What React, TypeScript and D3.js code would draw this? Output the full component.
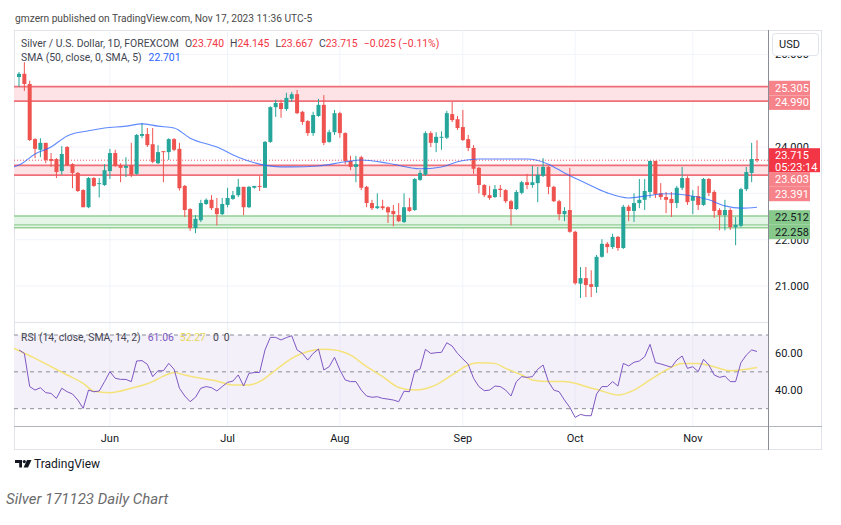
import React from "react";
import * as d3 from "d3";

// daily candles, 9 May 2023 .. 17 Nov 2023 (weekdays)
const opens = [
  25.51, 25.58, 25.36, 24.17, 23.94, 24.09, 23.74, 23.74, 23.48, 24.0,
  23.63, 23.44, 23.07, 22.7, 23.33, 23.2, 23.18, 23.48, 23.87, 23.61,
  23.55, 23.61, 23.42, 24.24, 24.28, 24.06, 23.65, 23.91, 23.89, 24.17,
  23.96, 23.16, 22.66, 22.25, 22.42, 22.77, 22.86, 22.68, 22.55, 22.75,
  22.88, 22.96, 23.14, 22.7, 23.12, 23.16, 23.12, 24.11, 24.86, 24.95,
  24.82, 25.04, 25.14, 24.76, 24.56, 24.3, 24.67, 24.91, 24.11, 24.32,
  24.73, 24.3, 23.7, 23.57, 23.78, 23.14, 22.79, 22.68, 22.72, 22.7,
  22.62, 22.53, 22.38, 22.7, 22.64, 23.29, 23.4, 24.3, 24.09, 24.2,
  24.2, 24.71, 24.6, 24.43, 24.17, 23.98, 23.55, 23.18, 22.96, 22.92,
  23.1, 23.07, 22.83, 22.66, 23.01, 23.24, 23.18, 23.22, 23.38, 23.57,
  23.14, 22.83, 22.55, 22.64, 22.17, 21.05, 21.17, 21.04, 20.98, 21.63,
  21.91, 21.84, 22.06, 21.82, 22.71, 22.62, 22.79, 22.86, 23.03, 23.7,
  23.0, 22.92, 22.88, 22.79, 23.12, 23.33, 22.84, 22.94, 22.75, 23.31,
  23.03, 22.64, 22.53, 22.64, 22.27, 22.3, 23.09, 23.44, 23.74,
];
const highs = [
  25.62, 25.83, 25.43, 24.19, 24.19, 24.09, 23.87, 23.76, 24.02, 24.02,
  23.65, 23.46, 23.09, 23.35, 23.35, 23.33, 23.63, 23.96, 23.94, 23.65,
  23.78, 24.09, 24.28, 24.52, 24.41, 24.41, 24.04, 23.91, 24.19, 24.19,
  24.09, 23.18, 22.68, 22.53, 22.86, 22.89, 22.96, 22.9, 22.9, 23.12,
  23.05, 23.31, 23.14, 23.16, 23.16, 23.37, 24.13, 24.88, 25.02, 25.02,
  25.17, 25.19, 25.23, 24.78, 24.58, 24.76, 25.04, 25.12, 24.37, 24.8,
  24.76, 24.32, 23.81, 23.81, 23.81, 23.16, 22.86, 23.0, 22.86, 22.72,
  22.75, 22.79, 23.0, 22.9, 23.33, 23.5, 24.34, 24.34, 24.32, 24.34,
  24.78, 24.97, 24.67, 24.8, 24.26, 24.04, 23.57, 23.2, 23.16, 23.18,
  23.18, 23.09, 22.86, 23.07, 23.27, 23.42, 23.59, 23.57, 23.76, 23.59,
  23.16, 22.86, 22.7, 23.55, 22.19, 21.41, 21.41, 21.34, 21.67, 22.01,
  21.95, 22.13, 22.08, 22.75, 22.75, 23.0, 23.31, 23.31, 23.7, 23.7,
  23.22, 23.03, 23.03, 23.16, 23.57, 23.37, 23.07, 23.16, 23.33, 23.33,
  23.07, 22.68, 22.86, 22.68, 22.49, 23.12, 23.57, 24.09, 24.145,
];
const lows = [
  25.3, 25.21, 24.13, 23.76, 23.78, 23.65, 23.57, 23.33, 23.4, 23.59,
  23.11, 23.03, 22.7, 22.68, 23.14, 22.91, 23.16, 23.31, 23.57, 23.24,
  23.35, 23.35, 23.4, 24.19, 24.0, 23.65, 23.63, 23.24, 23.72, 23.91,
  23.06, 22.49, 22.19, 22.14, 22.38, 22.75, 22.64, 22.31, 22.53, 22.7,
  22.86, 22.92, 22.53, 22.68, 23.1, 23.05, 23.12, 24.09, 24.65, 24.63,
  24.78, 24.98, 24.71, 24.48, 24.24, 24.24, 24.65, 24.04, 24.09, 24.26,
  24.2, 23.63, 23.5, 23.24, 23.07, 22.7, 22.64, 22.66, 22.64, 22.36,
  22.29, 22.38, 22.36, 22.6, 22.62, 23.27, 23.38, 24.0, 23.89, 23.94,
  24.17, 24.54, 24.37, 24.13, 23.91, 23.42, 23.0, 22.92, 22.86, 22.9,
  22.92, 22.79, 22.31, 22.64, 22.98, 23.09, 23.12, 22.81, 23.35, 22.98,
  22.81, 22.42, 22.4, 22.15, 21.03, 20.74, 20.76, 20.76, 20.85, 21.61,
  21.71, 21.8, 21.76, 21.8, 22.4, 22.38, 22.68, 22.64, 22.9, 22.9,
  22.86, 22.57, 22.49, 22.68, 23.07, 22.75, 22.55, 22.64, 22.73, 22.94,
  22.47, 22.2, 22.2, 22.21, 21.88, 22.27, 23.05, 23.24, 23.667,
];
const closes = [
  25.58, 25.36, 24.15, 23.96, 24.09, 23.72, 23.7, 23.46, 23.85, 23.61,
  23.44, 23.05, 22.7, 23.33, 23.16, 23.22, 23.5, 23.87, 23.59, 23.55,
  23.59, 23.4, 24.26, 24.28, 24.04, 23.68, 23.89, 23.89, 24.17, 23.94,
  23.11, 22.64, 22.25, 22.45, 22.79, 22.86, 22.68, 22.55, 22.77, 22.9,
  22.96, 23.14, 22.7, 23.14, 23.16, 23.14, 24.11, 24.86, 24.95, 24.82,
  25.06, 25.14, 24.73, 24.54, 24.3, 24.69, 24.91, 24.09, 24.32, 24.73,
  24.3, 23.7, 23.57, 23.63, 23.12, 22.79, 22.68, 22.72, 22.68, 22.59,
  22.55, 22.4, 22.7, 22.62, 23.31, 23.44, 24.3, 24.09, 24.22, 24.22,
  24.73, 24.58, 24.41, 24.15, 23.98, 23.53, 23.18, 22.96, 22.9, 23.09,
  23.07, 22.83, 22.66, 23.03, 23.24, 23.18, 23.24, 23.4, 23.57, 23.14,
  22.83, 22.55, 22.62, 22.17, 21.06, 21.17, 21.02, 20.98, 21.63, 21.91,
  21.84, 22.06, 21.82, 22.71, 22.62, 22.79, 22.86, 23.05, 23.7, 22.98,
  22.92, 22.86, 22.79, 23.12, 23.33, 22.81, 22.94, 22.75, 23.31, 23.01,
  22.62, 22.53, 22.64, 22.27, 22.32, 23.09, 23.46, 23.74, 23.715,
];

// SMA(50) line, read at a few bars
const smaIdx = [-1, 0, 3, 6, 9, 13, 16, 20, 23, 26, 29, 32, 37, 41, 45, 49, 51, 56, 61, 64, 69, 75, 79, 82, 86, 90, 95, 99, 102, 106, 110, 114, 117, 121, 125, 129, 132, 135, 138];
const smaVals = [23.57, 23.61, 23.85, 24.0, 24.24, 24.35, 24.41, 24.45, 24.5, 24.45, 24.41, 24.19, 24.0, 23.78, 23.63, 23.57, 23.57, 23.59, 23.68, 23.72, 23.65, 23.53, 23.57, 23.68, 23.74, 23.74, 23.74, 23.63, 23.44, 23.22, 23.01, 22.9, 22.94, 22.99, 22.96, 22.86, 22.73, 22.68, 22.701];

// RSI(14), one value per bar
const rsiVals = [
  61.9, 60.0, 42.0, 40.1, 41.4, 38.7, 38.3, 35.6, 41.1, 39.2,
  38.0, 34.7, 30.2, 40.1, 39.2, 39.6, 44.7, 50.1, 46.5, 45.9,
  45.9, 44.7, 55.9, 56.1, 54.1, 47.4, 50.6, 50.6, 54.6, 51.4,
  41.1, 36.9, 33.8, 36.2, 41.1, 42.0, 41.4, 39.6, 42.0, 44.3,
  45.0, 48.3, 42.3, 49.2, 49.6, 49.7, 61.9, 68.7, 68.7, 67.3,
  68.6, 69.6, 61.9, 60.0, 56.4, 60.0, 62.4, 51.0, 52.8, 57.9,
  51.0, 45.6, 44.7, 44.7, 40.1, 36.9, 36.2, 36.5, 35.6, 35.2,
  34.7, 33.8, 39.5, 39.2, 50.5, 51.5, 62.2, 60.0, 60.4, 60.6,
  65.8, 64.0, 60.0, 57.0, 54.1, 46.5, 42.0, 39.8, 40.1, 42.3,
  42.0, 40.1, 36.9, 44.7, 47.4, 47.0, 47.4, 51.4, 53.7, 44.7,
  40.1, 39.2, 34.7, 30.7, 25.3, 26.9, 26.2, 26.2, 38.0, 42.0,
  42.0, 44.7, 42.3, 54.6, 53.2, 55.2, 55.9, 58.2, 64.9, 55.0,
  54.3, 53.4, 52.5, 56.4, 58.6, 51.9, 52.8, 50.1, 56.8, 53.7,
  48.3, 47.0, 47.7, 44.7, 44.7, 55.0, 59.1, 61.9, 61.06,
];

// SMA(14) of the RSI
const rsiMaIdx = [-1, 3, 6, 9, 12, 14, 17, 21, 25, 27, 29, 31, 34, 37, 40, 43, 45, 48, 51, 54, 57, 59, 62, 65, 68, 71, 74, 78, 81, 84, 86, 89, 91, 94, 96, 99, 102, 104, 106, 109, 112, 115, 118, 121, 124, 127, 130, 133, 136, 138];
const rsiMaVals = [62.8, 57.3, 52.8, 48.3, 43.8, 39.5, 38.7, 41.1, 44.7, 47.7, 49.7, 48.3, 46.5, 45.0, 42.9, 42.9, 44.7, 51.0, 57.3, 61.0, 62.2, 61.9, 59.1, 52.8, 47.4, 41.5, 40.1, 42.9, 48.3, 53.7, 55.0, 54.6, 51.9, 48.3, 45.6, 44.7, 44.7, 43.8, 42.0, 39.6, 37.4, 40.1, 45.6, 51.0, 54.6, 54.6, 52.8, 50.6, 51.4, 52.3];

// drawn zones
const resistanceZones = [[25.305, 24.99], [23.603, 23.391]];
const supportZones = [[22.512, 22.258]];
const supportLine = 22.32;
const priceTicks = [21, 22, 23, 24, 25, 26];
const rsiLevels = [70, 50, 30];
const rsiTicks = [40, 60];

const FONT = "Roboto, 'Noto Sans', sans-serif";
const UP = "#26a69a";
const DOWN = "#ef5350";

// pane geometry
const L = 14, R = 768, AX = 822;
const TOP = 30, PB = 322, RB = 426.5, BOT = 450;

function tradingDays(n: number) {
  const out: Date[] = [];
  const d = new Date(2023, 4, 9);
  while (out.length < n) {
    const wd = d.getDay();
    if (wd !== 0 && wd !== 6) out.push(new Date(d));
    d.setDate(d.getDate() + 1);
  }
  return out;
}

export default function App() {
  const days = tradingDays(closes.length);
  const x = d3.scaleLinear().domain([0, closes.length - 1]).range([19, 757]);
  const y = d3.scaleLinear().domain([21, 24]).range([286, 147]);
  const yr = d3.scaleLinear().domain([30, 70]).range([408.7, 335]);
  const fmt = d3.format(".3f");

  const monthTicks = days
    .map((d, i) => ({ d, i }))
    .filter(({ d, i }) => i > 0 && d.getMonth() !== days[i - 1].getMonth());

  const smaLine = d3
    .line<number>()
    .x((_, i) => x(smaIdx[i]))
    .y((v) => y(v))
    .curve(d3.curveMonotoneX)(smaVals);
  const rsiLine = d3
    .line<number>()
    .x((_, i) => x(i))
    .y((v) => yr(v))(rsiVals);
  const rsiMaLine = d3
    .line<number>()
    .x((_, i) => x(rsiMaIdx[i]))
    .y((v) => yr(v))
    .curve(d3.curveMonotoneX)(rsiMaVals);

  const last = closes[closes.length - 1];
  const bw = 4;

  // right axis labels, pushed apart so they do not overlap the live price tag
  const tagH = 14.5;
  const curTop = y(last) - 12, curBot = y(last) + 12;
  const zoneTags: { v: number; fill: string; text: string }[] = [];
  resistanceZones.forEach((z) => z.forEach((v) => zoneTags.push({ v, fill: "#f7838a", text: "#ffffff" })));
  supportZones.forEach((z) => z.forEach((v) => zoneTags.push({ v, fill: "#86c98a", text: "#131722" })));
  zoneTags.sort((a, b) => b.v - a.v);
  let prevBot = -Infinity;
  const placed = zoneTags.map((t) => {
    let c = y(t.v) + 1.5;
    if (c - tagH / 2 < prevBot) c = prevBot + tagH / 2;
    if (c + tagH / 2 > curTop && c - tagH / 2 < curBot) c = curBot + tagH / 2;
    prevBot = c + tagH / 2;
    return { ...t, c };
  });

  // tick labels that sit fully under a tag are not shown (as on the platform)
  const tagBoxes = [...placed.map((t) => [t.c - tagH / 2, t.c + tagH / 2]), [curTop, curBot]];
  const shownTicks = priceTicks.filter((t) => !tagBoxes.some(([a, b]) => y(t) >= a && y(t) <= b));

  const red = "#f23645";
  const gray = "#434651";

  return (
    <div style={{ position: "absolute", left: 0, top: 0, width: 841, height: 525, background: "#fff" }}>
      <svg width={841} height={525} style={{ display: "block", fontFamily: FONT }}>
        <defs>
          <clipPath id="price-clip">
            <rect x={L} y={TOP} width={R - L} height={PB - TOP} />
          </clipPath>
          <clipPath id="rsi-clip">
            <rect x={L} y={PB} width={R - L} height={RB - PB} />
          </clipPath>
        </defs>

        <text x={15} y={22} fontSize={10.2} fill="#4a4a4a">
          gmzern published on TradingView.com, Nov 17, 2023 11:36 UTC-5
        </text>

        {/* frame */}
        <rect x={L + 0.5} y={TOP + 0.5} width={AX - L - 1} height={BOT - TOP - 1} fill="#fff" stroke="#e0e3eb" />

        {/* grid */}
        {priceTicks.map((t) => (
          <line key={`gy-${t}`} x1={L} x2={R} y1={y(t)} y2={y(t)} stroke="#f0f3fa" clipPath="url(#price-clip)" />
        ))}
        {monthTicks.map(({ i }) => (
          <line key={`gx-${i}`} x1={x(i)} x2={x(i)} y1={TOP} y2={RB} stroke="#f0f3fa" />
        ))}

        {/* zones */}
        <g clipPath="url(#price-clip)">
          {resistanceZones.map(([a, b], k) => (
            <g key={`rz-${k}`}>
              <rect x={L} y={y(a)} width={R - L} height={y(b) - y(a)} fill="#fde3e5" />
              <line x1={L} x2={R} y1={y(a)} y2={y(a)} stroke="#ef6f78" strokeWidth={1.8} />
              <line x1={L} x2={R} y1={y(b)} y2={y(b)} stroke="#ef6f78" strokeWidth={1.8} />
            </g>
          ))}
          {supportZones.map(([a, b], k) => (
            <g key={`sz-${k}`}>
              <rect x={L} y={y(a)} width={R - L} height={y(b) - y(a)} fill="#e4f4e6" />
              <line x1={L} x2={R} y1={y(a)} y2={y(a)} stroke="#93cf96" strokeWidth={1.5} />
              <line x1={L} x2={R} y1={y(b)} y2={y(b)} stroke="#93cf96" strokeWidth={1.5} />
            </g>
          ))}
          <line x1={L} x2={R} y1={y(supportLine)} y2={y(supportLine)} stroke="#93cf96" strokeWidth={1.2} />
          <line x1={L} x2={R} y1={y(last)} y2={y(last)} stroke={red} strokeDasharray="1 2" opacity={0.8} />

          {/* candles */}
          {closes.map((c, i) => {
            const o = opens[i];
            const col = c >= o ? UP : DOWN;
            const top = y(Math.max(o, c));
            const h = Math.max(1, y(Math.min(o, c)) - top);
            return (
              <g key={`c-${i}`}>
                <line x1={x(i)} x2={x(i)} y1={y(highs[i])} y2={y(lows[i])} stroke={col} strokeWidth={1} />
                <rect x={x(i) - bw / 2} y={top} width={bw} height={h} fill={col} />
              </g>
            );
          })}
          <path d={smaLine ?? undefined} fill="none" stroke="#2962ff" strokeOpacity={0.75} strokeWidth={1.1} />
        </g>

        {/* legend */}
        <text x={21} y={47} fontSize={10.4} fill={gray}>
          <tspan>Silver / U.S. Dollar, 1D, FOREXCOM</tspan>
          <tspan dx={6}>O</tspan>
          <tspan fill={red}>23.740</tspan>
          <tspan dx={6}>H</tspan>
          <tspan fill={red}>24.145</tspan>
          <tspan dx={6}>L</tspan>
          <tspan fill={red}>23.667</tspan>
          <tspan dx={6}>C</tspan>
          <tspan fill={red}>23.715</tspan>
          <tspan dx={6} fill={red}>−0.025 (−0.11%)</tspan>
        </text>
        <text x={21} y={61} fontSize={10.4} fill={gray}>
          <tspan>SMA (50, close, 0, SMA, 5)</tspan>
          <tspan dx={7} fill="#2962ff">22.701</tspan>
        </text>

        {/* RSI pane */}
        <line x1={L} x2={R} y1={PB + 0.5} y2={PB + 0.5} stroke="#e0e3eb" />
        <rect x={L} y={yr(70)} width={R - L} height={yr(30) - yr(70)} fill="#f3f0fa" />
        {monthTicks.map(({ i }) => (
          <line key={`gr-${i}`} x1={x(i)} x2={x(i)} y1={yr(70)} y2={yr(30)} stroke="#ebe7f5" />
        ))}
        {rsiLevels.map((lv) => (
          <line key={`lv-${lv}`} x1={L} x2={R} y1={yr(lv)} y2={yr(lv)} stroke="#8a8d96" strokeDasharray="4 4" />
        ))}
        <g clipPath="url(#rsi-clip)">
          <path d={rsiMaLine ?? undefined} fill="none" stroke="#f5e37a" strokeWidth={1.5} />
          <path d={rsiLine ?? undefined} fill="none" stroke="#7e57c2" strokeWidth={1} />
        </g>
        <text x={21} y={341} fontSize={10.4} fill={gray}>
          <tspan>RSI (14, close, SMA, 14, 2)</tspan>
          <tspan dx={7} fill="#7e57c2">61.06</tspan>
          <tspan dx={6} fill="#e8d65a">52.27</tspan>
          <tspan dx={7}>0</tspan>
          <tspan dx={5}>0</tspan>
        </text>

        {/* time axis */}
        <line x1={L} x2={AX} y1={RB} y2={RB} stroke="#b2b5be" />
        {monthTicks.map(({ d, i }) => (
          <text key={`mt-${i}`} x={x(i)} y={442} fontSize={11} textAnchor="middle" fill="#131722">
            {d3.timeFormat("%b")(d)}
          </text>
        ))}

        {/* price axis */}
        <line x1={R + 0.5} x2={R + 0.5} y1={TOP} y2={BOT} stroke="#8a8d96" />
        {shownTicks.map((t) => (
          <text key={`pt-${t}`} x={775} y={y(t)} dy="0.35em" fontSize={11} fill="#131722">
            {fmt(t)}
          </text>
        ))}
        {rsiTicks.map((t) => (
          <text key={`rt-${t}`} x={775} y={yr(t)} dy="0.35em" fontSize={11} fill="#131722">
            {t.toFixed(2)}
          </text>
        ))}
        <rect x={772.5} y={33.5} width={46} height={22} rx={3} fill="#fff" stroke="#e0e3eb" />
        <text x={779} y={48} fontSize={11} fill="#131722">USD</text>

        {placed.map((t, k) => (
          <g key={`tag-${k}`}>
            <rect x={R + 1} y={t.c - tagH / 2} width={41} height={tagH} fill={t.fill} />
            <text x={775} y={t.c} dy="0.35em" fontSize={11} fill={t.text}>
              {fmt(t.v)}
            </text>
          </g>
        ))}
        <rect x={R + 1} y={curTop} width={51} height={24} fill={red} />
        <text x={775} y={y(last) - 5.5} dy="0.35em" fontSize={11} fill="#fff">
          {fmt(last)}
        </text>
        <text x={775} y={y(last) + 6.5} dy="0.35em" fontSize={11} fill="#fff">
          05:23:14
        </text>

        {/* footer */}
        <g transform="translate(15,460)" fill="#131722">
          <path d="M0 0 H7 V7.5 H4.2 V3 H0 Z" />
          <circle cx={9.3} cy={1.6} r={1.6} />
          <path d="M12 0 H16.5 L13 7.5 H8.6 Z" />
        </g>
        <text x={34} y={468} fontSize={12} fill="#131722">TradingView</text>
        <text x={6} y={504} fontSize={15} fontStyle="italic" fill="#6b6b6b">
          Silver 171123 Daily Chart
        </text>
      </svg>
    </div>
  );
}
